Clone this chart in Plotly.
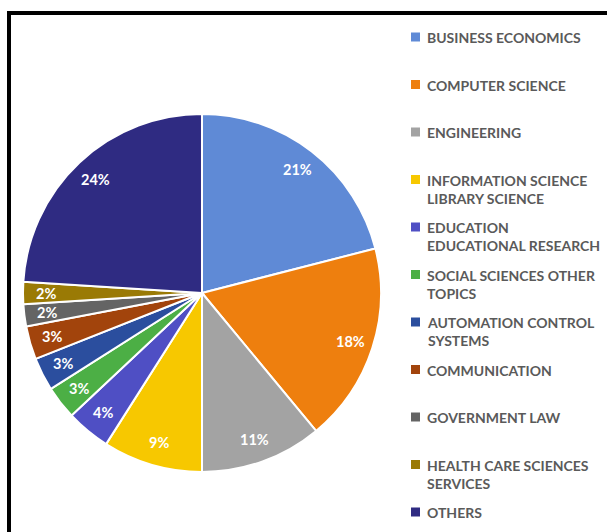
import math
import plotly.graph_objects as go

# Research areas and their share of publications (%)
categories = [
    "BUSINESS ECONOMICS",
    "COMPUTER SCIENCE",
    "ENGINEERING",
    "INFORMATION SCIENCE<br>LIBRARY SCIENCE",
    "EDUCATION<br>EDUCATIONAL RESEARCH",
    "SOCIAL SCIENCES OTHER<br>TOPICS",
    "AUTOMATION CONTROL<br>SYSTEMS",
    "COMMUNICATION",
    "GOVERNMENT LAW",
    "HEALTH CARE SCIENCES<br>SERVICES",
    "OTHERS",
]
shares = [21, 18, 11, 9, 4, 3, 3, 3, 2, 2, 24]
colors = [
    "#5F8AD6", "#EE7F0E", "#A3A3A3", "#F7C800", "#4F4FC4",
    "#4CAF45", "#2B4E9E", "#A2440C", "#646464", "#9A7A05", "#2F2B82",
]

W, H = 607, 532
cx, cy, R = 202, 293, 179  # pie centre and radius in pixels

fig = go.Figure(
    go.Pie(
        labels=categories,
        values=shares,
        sort=False,
        direction="clockwise",
        rotation=0,
        marker=dict(colors=colors, line=dict(color="white", width=2)),
        textinfo="none",
        hoverinfo="label+percent",
        showlegend=False,
        domain=dict(
            x=[(cx - R) / W, (cx + R) / W],
            y=[(H - (cy + R)) / H, (H - (cy - R)) / H],
        ),
    )
)

# Percentage labels placed near the rim of each slice
annotations = []
total = sum(shares)
cum = 0
for v in shares:
    mid = (cum + v / 2) / total * 2 * math.pi
    cum += v
    r = 0.87 * R
    px = cx + r * math.sin(mid)
    py = cy - r * math.cos(mid)
    annotations.append(dict(
        x=px / W, y=(H - py) / H, xref="paper", yref="paper",
        text=f"<b>{round(v / total * 100)}%</b>", showarrow=False,
        font=dict(family="Lato", size=14.5, color="white"),
        xanchor="center", yanchor="middle",
    ))

# Legend drawn as coloured squares with captions
shapes = []
leg_x, leg_y0, leg_step = 411, 37, 47.5
for i, (name, col) in enumerate(zip(categories, colors)):
    yc = leg_y0 + i * leg_step
    shapes.append(dict(
        type="rect", xref="paper", yref="paper",
        x0=leg_x / W, x1=(leg_x + 9) / W,
        y0=(H - (yc + 4.5)) / H, y1=(H - (yc - 4.5)) / H,
        fillcolor=col, line=dict(width=0),
    ))
    annotations.append(dict(
        x=(leg_x + 14) / W, y=(H - (yc - 10)) / H, xref="paper", yref="paper",
        text=f"<b>{name}</b>", showarrow=False, align="left",
        xanchor="left", yanchor="top",
        font=dict(family="Lato", size=14, color="#5A5A5A"),
    ))

# Outer black frame
shapes.append(dict(
    type="rect", xref="paper", yref="paper",
    x0=9 / W, x1=(W + 20) / W, y0=-20 / H, y1=(H - 13) / H,
    line=dict(color="black", width=4), fillcolor="rgba(0,0,0,0)",
))

fig.update_layout(
    width=W, height=H,
    margin=dict(l=0, r=0, t=0, b=0),
    paper_bgcolor="white", plot_bgcolor="white",
    annotations=annotations, shapes=shapes,
)

fig.write_html("out.html")
